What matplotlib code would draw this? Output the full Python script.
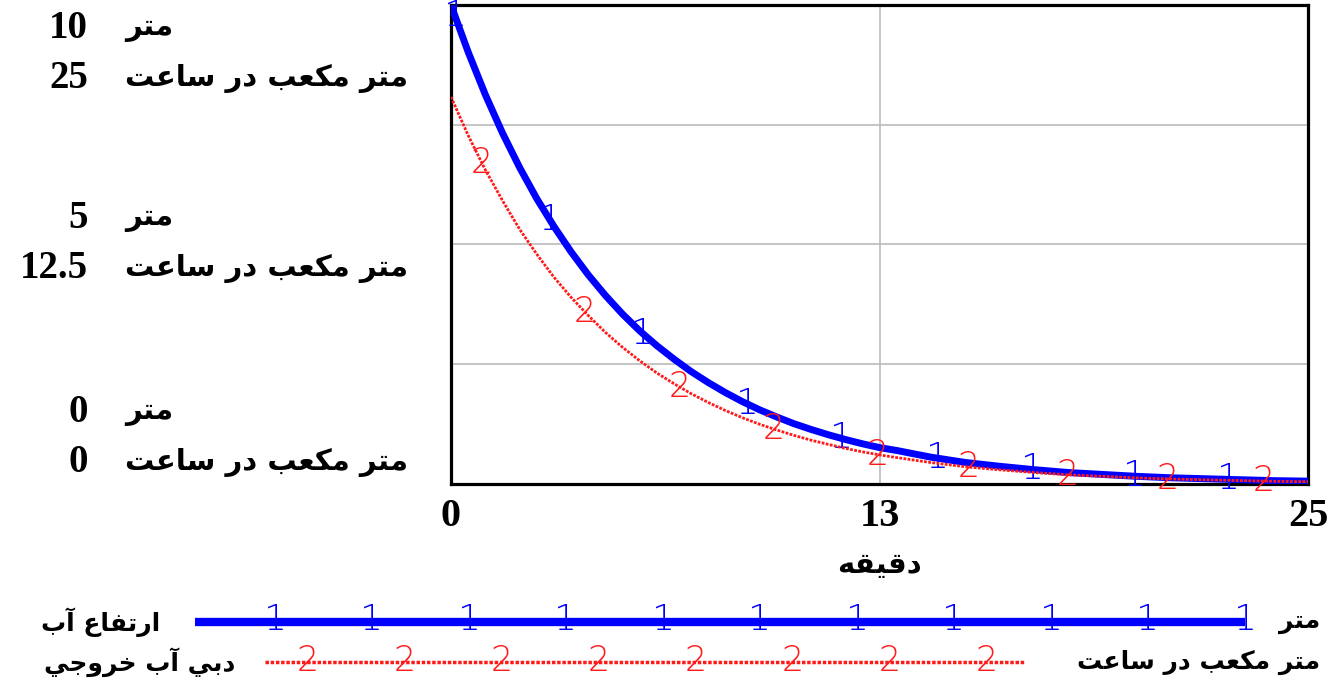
import numpy as np
import matplotlib
matplotlib.use("Agg")
import matplotlib.pyplot as plt

# ---------------- data ----------------
time = [0, 0.5, 1, 1.5, 2, 2.5, 3, 3.5, 4, 4.5, 5, 5.5, 6, 6.5, 7, 7.5, 8, 8.5, 9, 9.5,
        10, 10.5, 11, 11.5, 12, 12.5, 13, 14, 15, 16, 17, 18, 19, 20, 21, 22, 23, 24, 25]
height = [10.0, 9.02, 8.13, 7.33, 6.61, 5.96, 5.38, 4.85, 4.37, 3.94, 3.55, 3.20, 2.89,
          2.61, 2.35, 2.12, 1.91, 1.72, 1.55, 1.40, 1.26, 1.14, 1.03, 0.93, 0.84, 0.76,
          0.70, 0.56, 0.45, 0.37, 0.30, 0.24, 0.20, 0.16, 0.13, 0.11, 0.09, 0.07, 0.06]
outflow = [20.2, 18.2, 16.4, 14.8, 13.3, 12.0, 10.8, 9.75, 8.80, 7.92, 7.14, 6.44, 5.80,
           5.24, 4.72, 4.26, 3.84, 3.46, 3.12, 2.82, 2.54, 2.29, 2.07, 1.86, 1.68, 1.52,
           1.38, 1.12, 0.90, 0.74, 0.60, 0.48, 0.40, 0.32, 0.26, 0.22, 0.18, 0.14, 0.12]
marker_t_height = [0.12, 2.89, 5.6, 8.65, 11.4, 14.18, 16.95, 19.95, 22.67]
marker_t_outflow = [0.9, 3.9, 6.68, 9.4, 12.45, 15.1, 18.0, 20.9, 23.7]

xticks = [0, 12.5, 25]
xtick_labels = ["0", "13", "25"]
height_labels = ["10", "5", "0"]
outflow_labels = ["25", "12.5", "0"]

unit_height = "متر"
unit_outflow = "متر مكعب در ساعت"
xlabel = "دقيقه"
name_height = "ارتفاع آب"
name_outflow = "دبي آب خروجي"

# ------------- simple Arabic shaping (presentation forms + RTL) -------------
FORMS = {
    '\u0627': ('\uFE8D', '\uFE8E', None, None),
    '\u0622': ('\uFE81', '\uFE82', None, None),
    '\u0628': ('\uFE8F', '\uFE90', '\uFE91', '\uFE92'),
    '\u062A': ('\uFE95', '\uFE96', '\uFE97', '\uFE98'),
    '\u062C': ('\uFE9D', '\uFE9E', '\uFE9F', '\uFEA0'),
    '\u062E': ('\uFEA5', '\uFEA6', '\uFEA7', '\uFEA8'),
    '\u062F': ('\uFEA9', '\uFEAA', None, None),
    '\u0631': ('\uFEAD', '\uFEAE', None, None),
    '\u0633': ('\uFEB1', '\uFEB2', '\uFEB3', '\uFEB4'),
    '\u0639': ('\uFEC9', '\uFECA', '\uFECB', '\uFECC'),
    '\u0641': ('\uFED1', '\uFED2', '\uFED3', '\uFED4'),
    '\u0642': ('\uFED5', '\uFED6', '\uFED7', '\uFED8'),
    '\u0643': ('\uFED9', '\uFEDA', '\uFEDB', '\uFEDC'),
    '\u06A9': ('\uFED9', '\uFEDA', '\uFEDB', '\uFEDC'),
    '\u0645': ('\uFEE1', '\uFEE2', '\uFEE3', '\uFEE4'),
    '\u0647': ('\uFEE9', '\uFEEA', '\uFEEB', '\uFEEC'),
    '\u0648': ('\uFEED', '\uFEEE', None, None),
    '\u064A': ('\uFEF1', '\uFEF2', '\uFEF3', '\uFEF4'),
    '\u06CC': ('\uFEF1', '\uFEF2', '\uFEF3', '\uFEF4'),
}


def shape(s):
    out = []
    n = len(s)
    for i, c in enumerate(s):
        if c not in FORMS:
            out.append(c)
            continue
        f = FORMS[c]
        prev = s[i - 1] if i > 0 else None
        nxt = s[i + 1] if i < n - 1 else None
        jp = prev in FORMS and FORMS[prev][2] is not None
        jn = f[2] is not None and nxt in FORMS
        if jp and jn:
            g = f[3]
        elif jp:
            g = f[1]
        elif jn:
            g = f[2]
        else:
            g = f[0]
        out.append(g)
    return ''.join(reversed(out))


AR = dict(family=['DejaVu Sans'], weight='bold')
NUM = dict(family=['Liberation Serif', 'DejaVu Serif'], weight='bold')
MK = dict(family=['DejaVu Sans'], weight='ultralight')

BLUE = '#0000ff'
RED = '#ff1a1a'

W, H = 1334, 686
fig = plt.figure(figsize=(W / 100, H / 100), dpi=100)

# main axes (pixel box 451..1308 x 5..484)
L, R, T, B = 451, 1308, 5, 484
ax = fig.add_axes([L / W, 1 - B / H, (R - L) / W, (B - T) / H])
ax.set_xlim(0, 25)
ax.set_ylim(0, 10)
ax.set_xticks(xticks)
ax.set_xticklabels([])
ax.set_yticks([0, 2.5, 5, 7.5, 10])
ax.set_yticklabels([])
ax.tick_params(length=0)
ax.grid(True, color='#c0c0c0', linewidth=1.3)
for sp in ax.spines.values():
    sp.set_linewidth(2.3)
    sp.set_color('black')

ax2 = ax.twinx()
ax2.set_ylim(0, 25)
ax2.set_yticks([])
for sp in ax2.spines.values():
    sp.set_visible(False)

ax.plot(time, height, color=BLUE, linewidth=5.0, solid_capstyle='butt',
        solid_joinstyle='round', zorder=3)
ax2.plot(time, outflow, color=RED, linewidth=2.0, linestyle=(0, (1, 0.5)), zorder=2)

for t in marker_t_height:
    ax.text(t, np.interp(t, time, height), "1", color=BLUE, ha='center', va='center',
            fontsize=26, zorder=5, **MK)
for t in marker_t_outflow:
    ax2.text(t, np.interp(t, time, outflow), "2", color=RED, ha='center', va='center',
             fontsize=25, zorder=5, **MK)

# x tick labels
for xv, lab in zip(xticks, xtick_labels):
    ax.text(xv, -0.3, lab, ha='center', va='top', fontsize=29, **NUM)
ax.text(12.5, -1.4, shape(xlabel), ha='center', va='top', fontsize=21, **AR)

# overlay for layout text
lay = fig.add_axes([0, 0, 1, 1], zorder=-1)
lay.set_xlim(0, W)
lay.set_ylim(H, 0)
lay.axis('off')

label_rows = [(28, 78), (218, 268), (412, 462)]
for (yh, yq), hl, ql in zip(label_rows, height_labels, outflow_labels):
    lay.text(88, yh, hl, ha='right', va='center', fontsize=28, **NUM)
    lay.text(88, yq, ql, ha='right', va='center', fontsize=28, **NUM)
    lay.text(125, yh, shape(unit_height), ha='left', va='center', fontsize=21, **AR)
    lay.text(125, yq, shape(unit_outflow), ha='left', va='center', fontsize=21, **AR)

# legend
lay.plot([195, 1245], [622, 622], color=BLUE, linewidth=6, solid_capstyle='butt')
for xm in np.linspace(275, 1245, 11):
    lay.text(xm, 620, "1", color=BLUE, ha='center', va='center', fontsize=26, **MK)
lay.text(160, 622, shape(name_height), ha='right', va='center', fontsize=18, **AR)
lay.text(1320, 622, shape(unit_height), ha='right', va='center', fontsize=18, **AR)

lay.plot([265, 1025], [662, 662], color=RED, linewidth=2.5, linestyle=(0, (1, 0.5)))
for xm in np.linspace(308, 987, 8):
    lay.text(xm, 661, "2", color=RED, ha='center', va='center', fontsize=25, **MK)
lay.text(235, 662, shape(name_outflow), ha='right', va='center', fontsize=18, **AR)
lay.text(1320, 662, shape(unit_outflow), ha='right', va='center', fontsize=18, **AR)

fig.savefig("out.png", dpi=100)
